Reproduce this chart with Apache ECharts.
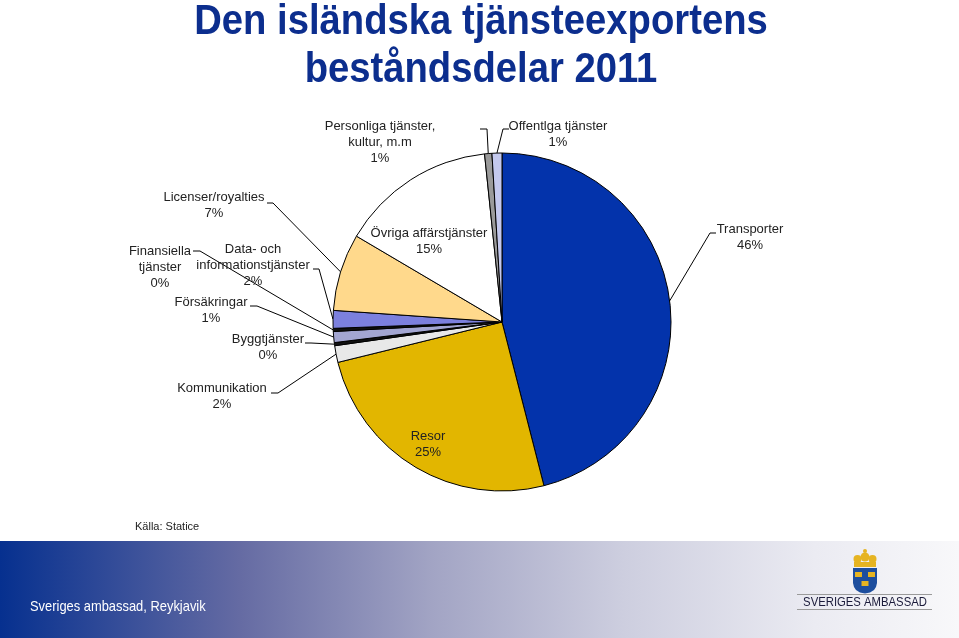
<!DOCTYPE html>
<html><head><meta charset="utf-8">
<script src="https://cdn.jsdelivr.net/npm/echarts@6/dist/echarts.min.js"></script>
<style>html,body{margin:0;padding:0;background:#fff}#c{width:959px;height:638px}</style>
</head><body><div id="c"></div>
<script>
// ---- data ----
const categories = ['Transporter', 'Resor', 'Kommunikation', 'Byggtjänster', 'Försäkringar',
  'Finansiella\ntjänster', 'Data- och\ninformationstjänster', 'Licenser/royalties',
  'Övriga affärstjänster', 'Personliga tjänster,\nkultur, m.m', 'Offentlga tjänster'];
const values = [46.1, 25.2, 1.6, 0.3, 1.05, 0.3, 1.7, 7.4, 14.9, 0.7, 0.95];
const colors = ['#0333AB', '#E2B600', '#E8E8E8', '#111111', '#A3A6D2', '#111111',
  '#7C80DE', '#FFD98C', '#FFFFFF', '#9A9A9A', '#C4C9EE'];
const titleLines = ['Den isländska tjänsteexportens', 'beståndsdelar 2011'];
const sourceText = 'Källa: Statice';
const footerText = 'Sveriges ambassad, Reykjavik';
const logoText = 'SVERIGES AMBASSAD';

// ---- layout (label anchor: centre x, first-line centre y, line bend x, label end x, tick y) ----
const insideIdx = [1, 8];
const labelPos = [
  [750, 229, 710, 716, 233],
  [428, 436],
  [222, 388, 278, 271, 393],
  [268, 339, 311, 305, 343],
  [211, 302, 257, 250, 306],
  [160, 251, 200, 193, 251],
  [253, 249, 319, 313, 269],
  [214, 197, 273, 267, 203],
  [429, 233],
  [380, 126, 487, 480, 129],
  [558, 126, 503, 509, 129]
];
const CX = 502, CY = 322, R = 169;

const chart = echarts.init(document.getElementById('c'), null, {renderer: 'canvas'});
const FONT = '"Liberation Sans", Arial, sans-serif';

const total = values.reduce((a, b) => a + b, 0);
function edgePoint(i) {
  let cum = 0;
  for (let k = 0; k < i; k++) cum += values[k];
  const ang = (cum + values[i] / 2) / total * Math.PI * 2;
  return [CX + R * Math.sin(ang), CY - R * Math.cos(ang)];
}

const shieldPts = [[853, 568], [877, 568], [877, 583], [876, 587], [874, 590], [870, 592.5], [865, 593.5], [860, 592.5], [856, 590], [854, 587], [853, 583]];

const option = {
  animation: false,
  backgroundColor: '#ffffff',
  graphic: [
    {type: 'text', x: 481, y: 22, scaleX: 0.91, style: {text: titleLines[0], font: 'bold 42px ' + FONT, fill: '#0C2E8E', textAlign: 'center', textVerticalAlign: 'middle'}},
    {type: 'text', x: 481, y: 70, scaleX: 0.91, style: {text: titleLines[1], font: 'bold 42px ' + FONT, fill: '#0C2E8E', textAlign: 'center', textVerticalAlign: 'middle'}},
    {type: 'text', x: 135, y: 527, style: {text: sourceText, font: '11px ' + FONT, fill: '#222', textAlign: 'left', textVerticalAlign: 'middle'}},
    {type: 'rect', shape: {x: 0, y: 541, width: 959, height: 97}, style: {fill: new echarts.graphic.LinearGradient(0, 0, 1, 0, [
      {offset: 0, color: '#06308F'}, {offset: 0.25, color: '#656BA3'}, {offset: 0.45, color: '#A2A4C4'},
      {offset: 0.65, color: '#CDCEDF'}, {offset: 0.85, color: '#EBEBF2'}, {offset: 1, color: '#F8F8FA'}])}, z: -1},
    {type: 'text', x: 30, y: 607, scaleX: 0.86, style: {text: footerText, font: '15px ' + FONT, fill: '#ffffff', textAlign: 'left', textVerticalAlign: 'middle'}},
    // logo
    {type: 'line', shape: {x1: 797, y1: 594.5, x2: 932, y2: 594.5}, style: {stroke: '#9a9a9a', lineWidth: 1}},
    {type: 'line', shape: {x1: 797, y1: 609.5, x2: 932, y2: 609.5}, style: {stroke: '#9a9a9a', lineWidth: 1}},
    {type: 'text', x: 865, y: 602.5, scaleX: 0.87, style: {text: logoText, font: '13px ' + FONT, fill: '#1a1a3a', textAlign: 'center', textVerticalAlign: 'middle'}},
    {type: 'polygon', shape: {points: shieldPts}, style: {fill: '#1D4E9E'}},
    {type: 'rect', shape: {x: 855, y: 572, width: 7, height: 5}, style: {fill: '#E6B422'}},
    {type: 'rect', shape: {x: 868, y: 572, width: 7, height: 5}, style: {fill: '#E6B422'}},
    {type: 'rect', shape: {x: 861.5, y: 581, width: 7, height: 5}, style: {fill: '#E6B422'}},
    {type: 'rect', shape: {x: 854, y: 562, width: 22, height: 5}, style: {fill: '#E6B422'}},
    {type: 'circle', shape: {cx: 857.5, cy: 559, r: 4}, style: {fill: '#E6B422'}},
    {type: 'circle', shape: {cx: 865, cy: 557, r: 4.5}, style: {fill: '#E6B422'}},
    {type: 'circle', shape: {cx: 872.5, cy: 559, r: 4}, style: {fill: '#E6B422'}},
    {type: 'circle', shape: {cx: 865, cy: 551, r: 2}, style: {fill: '#E6B422'}}
  ],
  series: [{
    type: 'pie',
    center: [CX, CY],
    radius: R,
    startAngle: 90,
    clockwise: true,
    avoidLabelOverlap: false,
    minShowLabelAngle: 0,
    silent: true,
    itemStyle: {borderColor: '#000', borderWidth: 1},
    emphasis: {disabled: true},
    label: {
      formatter: p => p.name + '\n' + Math.round(p.percent) + '%',
      fontSize: 13, fontFamily: FONT, color: '#222', lineHeight: 16
    },
    labelLine: {show: true, length: 10, length2: 5, lineStyle: {color: '#000', width: 1}},
    labelLayout: function (params) {
      const i = params.dataIndex;
      const p = labelPos[i];
      const res = {x: p[0], y: p[1] - 8, align: 'center', verticalAlign: 'top'};
      if (p.length > 2) {
        const start = (params.labelLinePoints && params.labelLinePoints[0]) || edgePoint(i);
        res.labelLinePoints = [start, [p[2], p[4]], [p[3], p[4]]];
      }
      return res;
    },
    data: categories.map((n, i) => ({
      name: n, value: values[i],
      itemStyle: {color: colors[i]},
      label: {position: insideIdx.includes(i) ? 'inside' : 'outside'},
      labelLine: {show: !insideIdx.includes(i)}
    }))
  }]
};
chart.setOption(option);
</script>
</body></html>
